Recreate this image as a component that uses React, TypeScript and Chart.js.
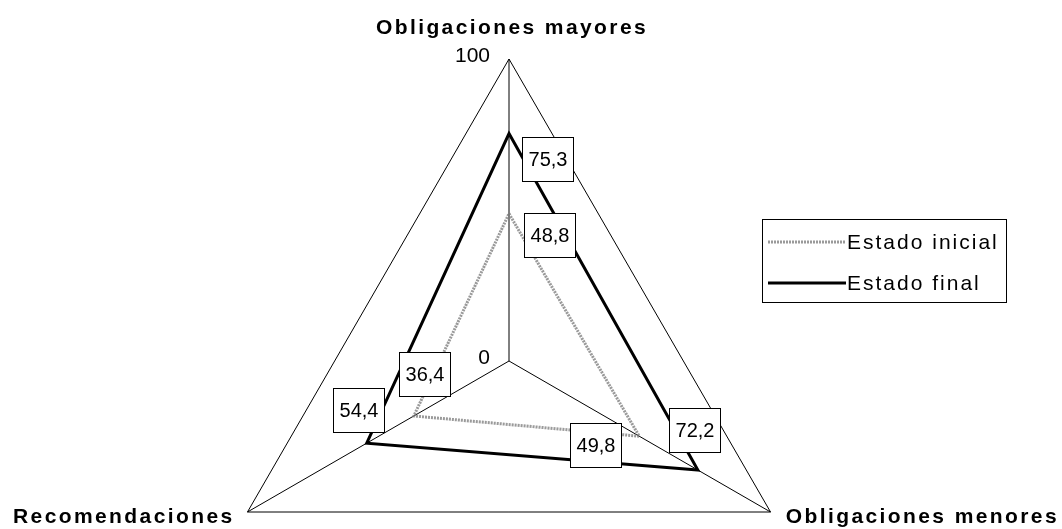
import { useEffect, useRef } from "react";
import { Chart, registerables } from "chart.js";

Chart.register(...registerables);

const categories = ["Obligaciones mayores", "Obligaciones menores", "Recomendaciones"];
const estadoInicial = [48.8, 49.8, 36.4];
const estadoFinal = [75.3, 72.2, 54.4];
const seriesNames = ["Estado inicial", "Estado final"];
const tickValues = [0, 100];

// label box centre offsets from each data point (styling only)
const boxOffsets = [
  [[40, 21], [-44, 9], [11, -42]],
  [[38, 25], [-3, -40], [-8, -33]],
];

const FONT = '"Liberation Sans", Arial, sans-serif';
const fmt = (v: number) => v.toFixed(1).replace(".", ",");

const decorPlugin = {
  id: "decor",
  afterDraw(chart: any) {
    const ctx = chart.ctx as CanvasRenderingContext2D;
    const r = chart.scales.r;
    ctx.save();
    // tick labels
    ctx.fillStyle = "#000";
    ctx.font = `21px ${FONT}`;
    ctx.textAlign = "right";
    ctx.textBaseline = "middle";
    tickValues.forEach((t) => {
      const p = r.getPointPositionForValue(0, t);
      ctx.fillText(String(t), p.x - 19, p.y - 3);
    });
    // point labels
    ctx.font = `bold 21px ${FONT}`;
    (ctx as any).letterSpacing = "2.4px";
    ctx.textBaseline = "alphabetic";
    const top = r.getPointPositionForValue(0, 100);
    ctx.textAlign = "center";
    ctx.fillText(categories[0], top.x + 3, top.y - 25);
    ctx.textAlign = "right";
    ctx.fillText(categories[1], 1059, 523);
    ctx.textAlign = "left";
    ctx.fillText(categories[2], 13, 523);
    (ctx as any).letterSpacing = "0px";

    // value boxes
    ctx.font = `20px ${FONT}`;
    ctx.textAlign = "center";
    ctx.textBaseline = "middle";
    chart.data.datasets.forEach((ds: any, di: number) => {
      const meta = chart.getDatasetMeta(di);
      meta.data.forEach((el: any, i: number) => {
        const [dx, dy] = boxOffsets[di][i];
        const cx = el.x + dx;
        const cy = el.y + dy;
        const w = 51;
        const h = 44;
        const x0 = Math.round(cx - w / 2) + 0.5;
        const y0 = Math.round(cy - h / 2) + 0.5;
        ctx.fillStyle = "#fff";
        ctx.fillRect(x0, y0, w, h);
        ctx.strokeStyle = "#000";
        ctx.lineWidth = 1;
        ctx.strokeRect(x0, y0, w, h);
        ctx.fillStyle = "#000";
        ctx.fillText(fmt(ds.data[i]), x0 + w / 2, y0 + h / 2 + 1);
      });
    });

    // legend
    const lx = 762.5, ly = 219.5, lw = 244, lh = 83;
    ctx.fillStyle = "#fff";
    ctx.fillRect(lx, ly, lw, lh);
    ctx.strokeStyle = "#000";
    ctx.lineWidth = 1;
    ctx.strokeRect(lx, ly, lw, lh);
    ctx.font = `21px ${FONT}`;
    (ctx as any).letterSpacing = "2px";
    ctx.textAlign = "left";
    ctx.textBaseline = "middle";
    chart.data.datasets.forEach((ds: any, di: number) => {
      const y = di === 0 ? 242 : 283;
      ctx.save();
      ctx.strokeStyle = ds.borderColor;
      ctx.lineWidth = ds.borderWidth;
      ctx.setLineDash(ds.borderDash || []);
      ctx.beginPath();
      ctx.moveTo(768, y);
      ctx.lineTo(846, y);
      ctx.stroke();
      ctx.restore();
      ctx.fillStyle = "#000";
      ctx.fillText(ds.label, 847, y + 1);
    });
    ctx.restore();
  },
};

export default function App() {
  const ref = useRef<HTMLCanvasElement>(null);
  useEffect(() => {
    if (!ref.current) return;
    const chart = new Chart(ref.current, {
      type: "radar",
      data: {
        labels: categories,
        datasets: [
          {
            label: seriesNames[0],
            data: estadoInicial,
            borderColor: "rgba(120,120,120,0.75)",
            borderWidth: 3,
            borderDash: [2, 1],
            fill: false,
            pointRadius: 0,
            tension: 0,
          },
          {
            label: seriesNames[1],
            data: estadoFinal,
            borderColor: "#000",
            borderWidth: 3,
            fill: false,
            pointRadius: 0,
            tension: 0,
          },
        ],
      },
      options: {
        responsive: false,
        animation: false,
        devicePixelRatio: 1,
        layout: { padding: { left: 0, right: 44, top: 59, bottom: 37 } },
        plugins: { legend: { display: false }, tooltip: { enabled: false }, title: { display: false } },
        scales: {
          r: {
            min: 0,
            max: 100,
            ticks: { display: false, stepSize: 100 },
            grid: { color: "#000", lineWidth: 1 },
            angleLines: { color: "#000", lineWidth: 1 },
            pointLabels: { display: false },
          },
        },
      },
      plugins: [decorPlugin],
    });
    return () => chart.destroy();
  }, []);
  return (
    <div style={{ position: "fixed", left: 0, top: 0, width: 1062, height: 529, overflow: "hidden", background: "#fff" }}>
      <canvas ref={ref} width={1062} height={700} style={{ width: 1062, height: 700, display: "block" }} />
    </div>
  );
}
